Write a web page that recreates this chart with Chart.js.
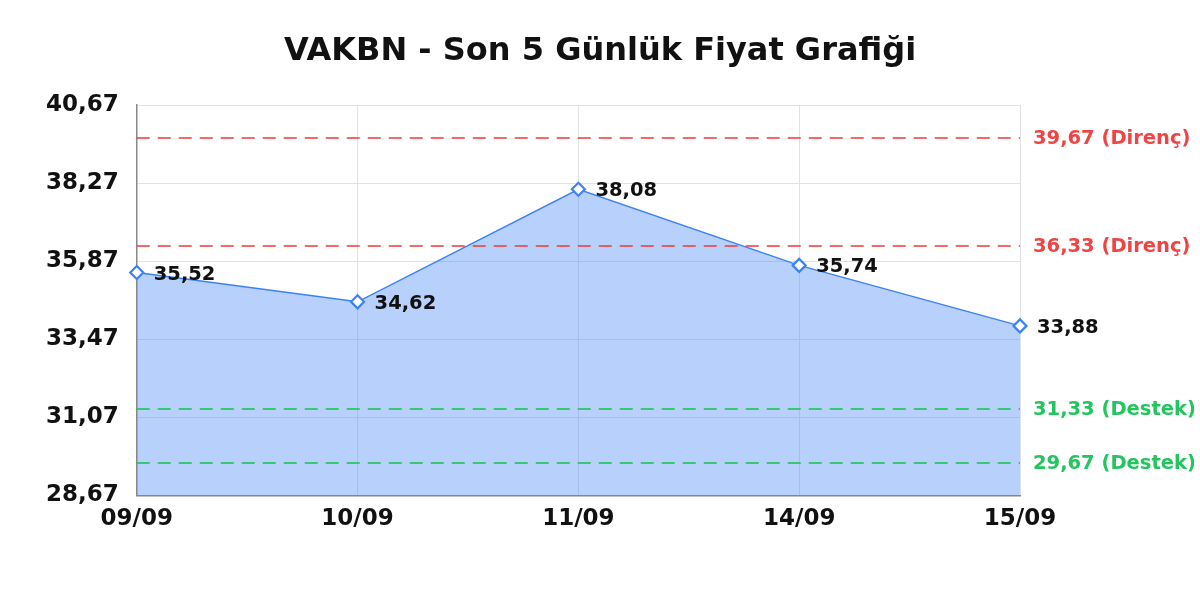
<!DOCTYPE html>
<html>
<head>
<meta charset="utf-8">
<title>VAKBN - Son 5 Günlük Fiyat Grafiği</title>
<script src="https://cdn.jsdelivr.net/npm/chart.js@4.4.1/dist/chart.umd.min.js"></script>
<style>
    html, body { margin: 0; padding: 0; background: #ffffff; }
    .chart-wrap { position: relative; width: 1200px; height: 600px; }
</style>
</head>
<body>
<div class="chart-wrap">
    <canvas id="priceChart"></canvas>
</div>
<script>
// ==========================================
// Data
// ==========================================
const chartTitle = 'VAKBN - Son 5 Günlük Fiyat Grafiği';
const dates = ['09/09', '10/09', '11/09', '14/09', '15/09'];
const closes = [35.52, 34.62, 38.08, 35.74, 33.88];
const yTicks = [28.67, 31.07, 33.47, 35.87, 38.27, 40.67];
const resistanceLevels = [39.67, 36.33];
const supportLevels = [31.33, 29.67];

const FONT = "'DejaVu Sans', sans-serif";
const RED = '#ef4444';
const GREEN = '#22c55e';
const BLUE = '#3b82f6';

function fmt(v) {
    return v.toFixed(2).replace('.', ',');
}

// ==========================================
// Plugins
// ==========================================

// Title centred on the whole canvas (the built-in one centres on the padded box)
const pageTitle = {
    id: 'pageTitle',
    afterDraw(chart) {
        const ctx = chart.ctx;
        ctx.save();
        ctx.fillStyle = '#111111';
        ctx.font = 'bold 32px ' + FONT;
        ctx.textAlign = 'center';
        ctx.textBaseline = 'alphabetic';
        ctx.fillText(chartTitle, chart.width / 2, 60);
        ctx.restore();
    }
};

// Support / resistance levels with labels on the right
const levelLines = {
    id: 'levelLines',
    afterDatasetsDraw(chart) {
        const ctx = chart.ctx;
        const area = chart.chartArea;
        const y = chart.scales.y;
        const levels = [];
        resistanceLevels.forEach(v => levels.push({ v: v, line: 'rgba(239, 68, 68, 0.8)', color: RED, text: fmt(v) + ' (Direnç)' }));
        supportLevels.forEach(v => levels.push({ v: v, line: 'rgba(34, 197, 94, 0.85)', color: GREEN, text: fmt(v) + ' (Destek)' }));

        ctx.save();
        levels.forEach(l => {
            const py = Math.round(y.getPixelForValue(l.v));
            ctx.strokeStyle = l.line;
            ctx.lineWidth = 2;
            ctx.setLineDash([13, 8]);
            ctx.beginPath();
            ctx.moveTo(area.left, py);
            ctx.lineTo(area.right, py);
            ctx.stroke();

            ctx.setLineDash([]);
            ctx.fillStyle = l.color;
            ctx.font = 'bold 19.5px ' + FONT;
            ctx.textAlign = 'left';
            ctx.textBaseline = 'middle';
            ctx.fillText(l.text, area.right + 13, py + 1);
        });
        ctx.restore();
    }
};

// Value labels next to each point
const pointLabels = {
    id: 'pointLabels',
    afterDraw(chart) {
        const ctx = chart.ctx;
        const meta = chart.getDatasetMeta(0);
        ctx.save();
        ctx.fillStyle = '#111111';
        ctx.font = 'bold 19.5px ' + FONT;
        ctx.textAlign = 'left';
        ctx.textBaseline = 'middle';
        meta.data.forEach((pt, i) => {
            ctx.fillText(fmt(closes[i]), pt.x + 17, pt.y + 2);
        });
        ctx.restore();
    }
};

// ==========================================
// Chart
// ==========================================
new Chart(document.getElementById('priceChart'), {
    type: 'line',
    data: {
        labels: dates,
        datasets: [{
            label: 'VAKBN',
            data: closes,
            borderColor: BLUE,
            borderWidth: 1.5,
            backgroundColor: 'rgba(59, 130, 246, 0.37)',
            fill: 'start',
            tension: 0,
            pointStyle: 'rectRot',
            pointRadius: 6.5,
            pointBorderWidth: 2.2,
            pointBorderColor: BLUE,
            pointBackgroundColor: '#ffffff'
        }]
    },
    options: {
        responsive: true,
        maintainAspectRatio: false,
        animation: false,
        layout: {
            padding: { left: 28, right: 180, top: 105, bottom: 57 }
        },
        plugins: {
            legend: { display: false },
            tooltip: { enabled: false },
            title: { display: false }
        },
        scales: {
            x: {
                offset: false,
                grid: { color: '#e2e2e2', drawTicks: false },
                border: { color: '#888888', width: 1.5 },
                ticks: {
                    color: '#111111',
                    padding: 10,
                    maxRotation: 0,
                    font: { family: FONT, size: 23, weight: 'bold' }
                }
            },
            y: {
                min: yTicks[0],
                max: yTicks[yTicks.length - 1],
                afterBuildTicks: function(scale) {
                    scale.ticks = yTicks.map(v => ({ value: v }));
                },
                grid: { color: '#e2e2e2', drawTicks: false },
                border: { color: '#888888', width: 1.5 },
                ticks: {
                    color: '#111111',
                    padding: 18,
                    font: { family: FONT, size: 23, weight: 'bold' },
                    callback: function(value) {
                        return fmt(value);
                    }
                }
            }
        }
    },
    plugins: [levelLines, pointLabels, pageTitle]
});
</script>
</body>
</html>
